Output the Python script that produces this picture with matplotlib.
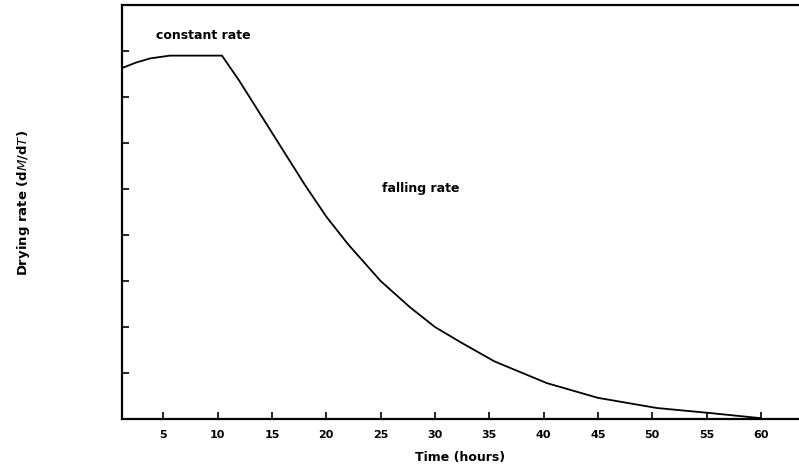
import matplotlib.pyplot as plt

# drying curve
time_h = [1.2, 2.5, 3.8, 5.0, 5.6, 10.4, 12.0, 14.0, 16.0, 18.0, 20.0, 22.0,
          25.0, 27.7, 30.0, 32.5, 35.5, 40.3, 45.0, 50.4, 55.3, 59.9]
rate = [7.63, 7.75, 7.84, 7.88, 7.9, 7.9, 7.35, 6.6, 5.85, 5.1, 4.4, 3.8,
        3.0, 2.43, 2.0, 1.65, 1.25, 0.78, 0.46, 0.24, 0.13, 0.02]

x_ticks = [5, 10, 15, 20, 25, 30, 35, 40, 45, 50, 55, 60]
y_ticks = [1, 2, 3, 4, 5, 6, 7, 8]

fig = plt.figure(figsize=(7.99, 4.74), dpi=100)
ax = fig.add_axes([0.1527, 0.116, 0.8473, 0.8734])

ax.plot(time_h, rate, color='black', linewidth=1.3)

ax.set_xlim(1.2, 63.5)
ax.set_ylim(0, 9)
ax.set_xticks(x_ticks)
ax.set_xticklabels([str(t) for t in x_ticks], fontsize=8, fontweight='bold')
ax.set_yticks(y_ticks)
ax.set_yticklabels([])
ax.tick_params(direction='in', length=5, width=1.2, pad=8)

ax.spines['right'].set_visible(False)
for s in ['left', 'bottom', 'top']:
    ax.spines[s].set_linewidth(1.6)

ax.text(4.3, 8.33, 'constant rate', fontsize=9, fontweight='bold', va='center')
ax.text(25.1, 5.02, 'falling rate', fontsize=9, fontweight='bold', va='center')

ax.set_xlabel('Time (hours)', fontsize=9, fontweight='bold', labelpad=8)
fig.text(0.029, 0.571, r'Drying rate (d$\it{M}$/d$\it{T}$)', rotation=90,
         fontsize=9.5, fontweight='bold', ha='center', va='center')

plt.savefig('out.png', dpi=100)
